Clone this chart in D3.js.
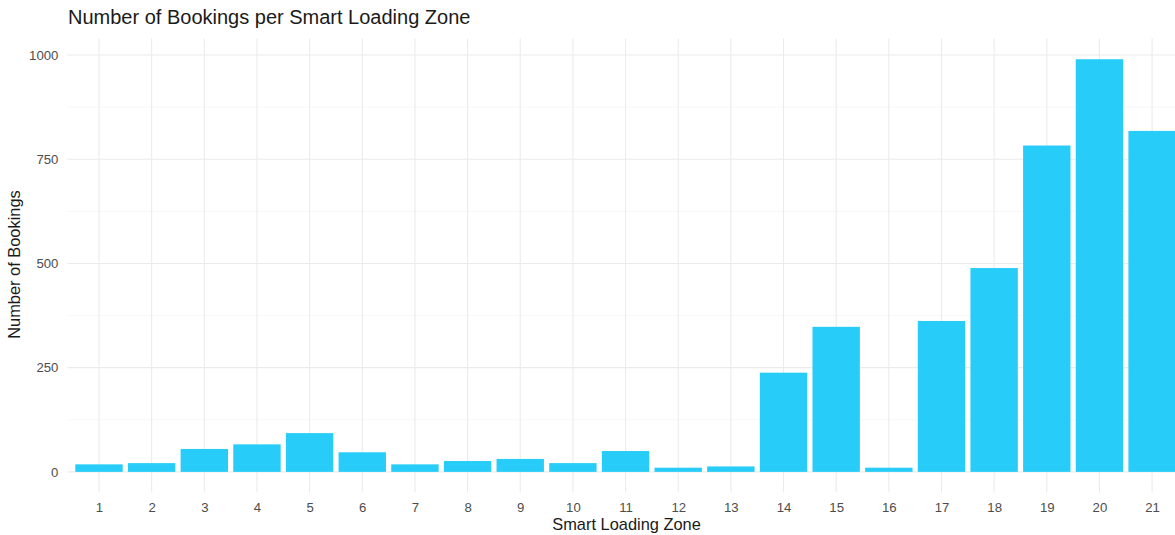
<!DOCTYPE html>
<html>
<head>
<meta charset="utf-8">
<script src="https://cdn.jsdelivr.net/npm/d3@7"></script>
<style>
  body { margin: 0; background: white; }
  text { font-family: "Liberation Sans", Arial, sans-serif; }
</style>
</head>
<body>
<div id="chart"></div>
<script>
// data
let zones = ["1","2","3","4","5","6","7","8","9","10","11","12","13","14","15","16","17","18","19","20","21"];
let bookings = [18, 21, 55, 66, 93, 47, 18, 26, 31, 21, 50, 10, 13, 238, 348, 10, 362, 489, 783, 990, 818];
let yTicks = [0, 250, 500, 750, 1000];
let yMinor = [125, 375, 625, 875];

let config = {
  width: 1175,
  height: 535,
  barColor: "#27cdf8",
  gridColor: "#ebebeb",
  panel: { left: 67.4, right: 1183.7, top: 38.6, bottom: 492.5 }
};

let svg = d3.select("#chart").append("svg")
  .attr("width", config.width)
  .attr("height", config.height);

let maxVal = d3.max(bookings);
let y = d3.scaleLinear()
  .domain([-0.05 * maxVal, maxVal * 1.05])
  .range([config.panel.bottom, config.panel.top]);

// discrete scale with ggplot's 0.6 expansion
let step = (config.panel.right - config.panel.left) / (zones.length - 1 + 1.2);
let x = d3.scalePoint()
  .domain(zones)
  .range([config.panel.left + 0.6 * step, config.panel.right - 0.6 * step]);

let grid = svg.append("g");

grid.selectAll(".minor")
  .data(yMinor)
  .enter()
  .append("line")
  .attr("x1", config.panel.left)
  .attr("x2", config.panel.right)
  .attr("y1", d => y(d))
  .attr("y2", d => y(d))
  .attr("stroke", "#f2f2f2")
  .attr("stroke-width", 0.6);

grid.selectAll(".major")
  .data(yTicks)
  .enter()
  .append("line")
  .attr("x1", config.panel.left)
  .attr("x2", config.panel.right)
  .attr("y1", d => y(d))
  .attr("y2", d => y(d))
  .attr("stroke", config.gridColor)
  .attr("stroke-width", 1.1);

grid.selectAll(".vert")
  .data(zones)
  .enter()
  .append("line")
  .attr("x1", d => x(d))
  .attr("x2", d => x(d))
  .attr("y1", config.panel.top)
  .attr("y2", config.panel.bottom)
  .attr("stroke", config.gridColor)
  .attr("stroke-width", 1.1);

svg.selectAll(".bar")
  .data(zones)
  .enter()
  .append("rect")
  .attr("x", d => x(d) - 0.45 * step)
  .attr("width", 0.9 * step)
  .attr("y", (d, i) => y(bookings[i]))
  .attr("height", (d, i) => y(0) - y(bookings[i]))
  .attr("fill", config.barColor);

// axes (no lines, just labels)
let xAxis = svg.append("g")
  .attr("transform", "translate(0," + config.panel.bottom + ")")
  .call(d3.axisBottom(x).tickSize(0).tickPadding(10));
xAxis.select(".domain").remove();
xAxis.selectAll("text")
  .attr("font-size", 13.2)
  .attr("fill", "#4d4d4d")
  .style("font-family", "Liberation Sans, Arial, sans-serif");

let yAxis = svg.append("g")
  .attr("transform", "translate(" + (config.panel.left - 9) + ",0)")
  .call(d3.axisLeft(y).tickValues(yTicks).tickSize(0).tickPadding(0).tickFormat(d3.format("d")));
yAxis.select(".domain").remove();
yAxis.selectAll("text")
  .attr("font-size", 13.2)
  .attr("fill", "#4d4d4d")
  .style("font-family", "Liberation Sans, Arial, sans-serif");

svg.append("text")
  .attr("x", 68)
  .attr("y", 24)
  .attr("font-size", 20)
  .attr("fill", "#1a1a1a")
  .text("Number of Bookings per Smart Loading Zone");

svg.append("text")
  .attr("x", (config.panel.left + config.panel.right) / 2 + 1)
  .attr("y", 530)
  .attr("text-anchor", "middle")
  .attr("font-size", 16.4)
  .attr("fill", "#1a1a1a")
  .text("Smart Loading Zone");

svg.append("text")
  .attr("transform", "translate(20," + ((config.panel.top + config.panel.bottom) / 2 - 1) + ") rotate(-90)")
  .attr("text-anchor", "middle")
  .attr("font-size", 16.4)
  .attr("fill", "#1a1a1a")
  .text("Number of Bookings");
</script>
</body>
</html>
